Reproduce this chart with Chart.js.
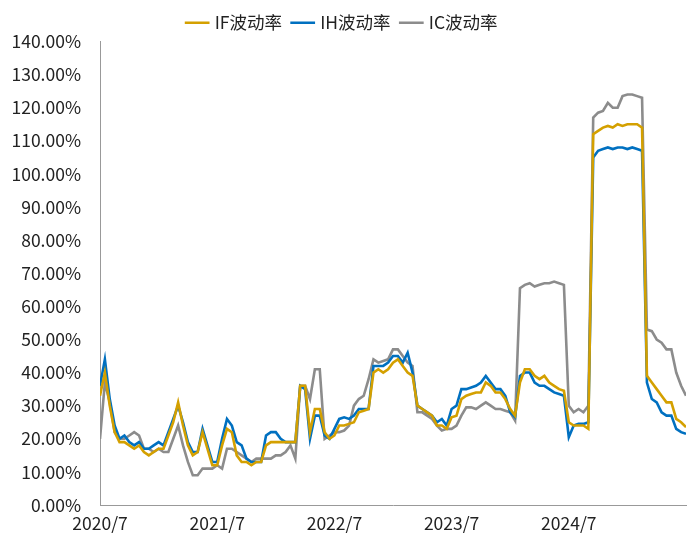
<!DOCTYPE html>
<html><head><meta charset="utf-8">
<script src="https://cdn.jsdelivr.net/npm/chart.js@4"></script>
<style>html,body{margin:0;padding:0;background:#fff}#w{width:700px;height:549px}</style>
</head><body><div id="w"><canvas id="c"></canvas></div>
<script>
const xLabels = {0:'2020/7',12:'2021/7',24:'2022/7',36:'2023/7',48:'2024/7'};
const seriesNames = ['IF波动率','IH波动率','IC波动率'];
const ifVals = [33,40,30,22,19,19,18,17,18,16,15,16,17,17,21,25,31,24,18,15,16,22,17,12,12,18,23,22,15,13,13,12,13,13,18,19,19,19,19,19,19,36,36,22,29,29,22,20,21,24,24,24.5,25,28,28.5,29,40,41,40,41,43,44,42,40,39,30,29,28,27,24,24,23,26.5,27,32,33,33.5,34,34,37,36,34,34,32,29,27,37,41,41,39,38,39,37,36,35,34.5,25,24,24,24,23,112,113,114,114.5,114,115,114.5,115,115,115,114,39,37,35,33,31,31,26,25,23.5];
const ihVals = [36,44,32,24,20,21,19,18,19,17,17,18,19,18,22,26,30,25,19,16,16,23,18,13,13,20,26,24,19,18,14,13,13,13,21,22,22,20,19,19,19,36,35,20,27,27,21,20,23,26,26.5,26,27,29,29,29,42,42,42,43,45,45,43,46,40,30,29,28,27,25,26,24,29,30,35,35,35.5,36,37,39,37,35,35,33,28,26.5,39,40,40,37,36,36,35,34,33.5,33,20.5,24,24.5,24.5,25,105,107,107.5,108,107.5,108,108,107.5,108,107.5,107,37,32,31,28,27,27,23,22,21.5];
const icVals = [20,37,31,22,20,20,21,22,21,17,17,16,17,16,16,20,24,18,13,9,9,11,11,11,12,11,17,17,16,15,14,13,14,14,14,14,15,15,16,18,14,36,36,32,41,41,20,21,22,22,22.5,24,30,32,33,38,44,43,43.5,44,47,47,45,43,42,28,28,27,26,24,22.5,23,23,24,27,29.5,29.5,29,30,31,30,29,29,28.5,28,25.5,65.5,66.5,67,66,66.5,67,67,67.5,67,66.5,30,28,29,28,30,117,118.5,119,121.5,120,120,123.5,124,124,123.5,123,53,52.5,50,49,47,47,40,36,33];
const xs = ifVals.map((_, i) => i * 0.5);
const toPts = a => a.map((v, i) => ({x: xs[i], y: v}));
const colors = ['#D4A000', '#0070C0', '#8C8C8C'];
const font = {family: '"Noto Sans CJK SC","Noto Sans"', size: 17.5};
new Chart(document.getElementById('c'), {
  type: 'line',
  data: {datasets: [ifVals, ihVals, icVals].map((a, i) => ({
    label: seriesNames[i], data: toPts(a), borderColor: colors[i], backgroundColor: colors[i],
    borderWidth: 2.6, pointRadius: 0, tension: 0
  }))},
  options: {
    responsive: true, maintainAspectRatio: false, animation: false,
    layout: {padding: {left: 0, right: 14, top: 2, bottom: 12}},
    plugins: {legend: {position: 'top', labels: {font, color: '#222', usePointStyle: true, pointStyle: 'line', boxWidth: 22, padding: 12}}, tooltip: {enabled: false}},
    scales: {
      x: {type: 'linear', min: 0, max: 60,
        grid: {display: false, drawTicks: true, tickLength: 5}, border: {color: '#999'},
        ticks: {stepSize: 12, font, color: '#222', maxRotation: 0, autoSkip: false,
          callback: v => xLabels[v] ?? ''}},
      y: {min: 0, max: 140,
        afterFit: s => { s.width = 100; },
        grid: {display: false, tickLength: 5}, border: {color: '#999'},
        ticks: {stepSize: 10, font, color: '#222', padding: 14, callback: v => v.toFixed(2) + '%'}}
    }
  }
});
</script></body></html>
